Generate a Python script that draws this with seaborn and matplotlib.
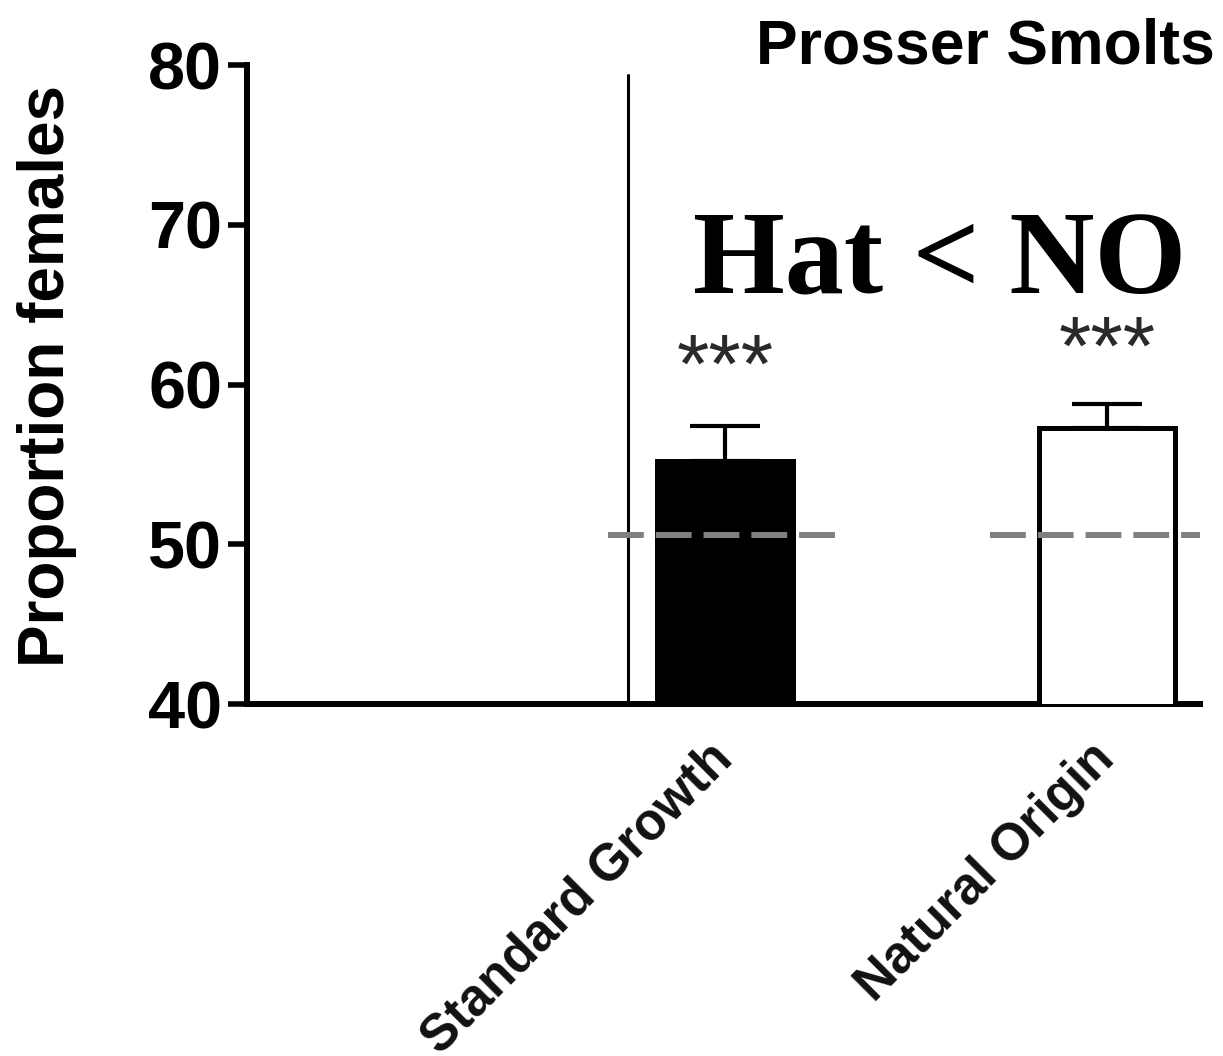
import matplotlib
matplotlib.use("Agg")
from matplotlib import pyplot as plt
import numpy as np
import pandas as pd
import seaborn as sns

# values
groups = ["Standard Growth", "Natural Origin"]
pct_female = [55.2, 57.3]
sem_upper = [2.2, 1.5]
stars = ["***", "***"]
star_level = [59.5, 60.6]
null_level = 50.6
y_ticks = [40, 50, 60, 70, 80]

df = pd.DataFrame({"group": groups, "pct": pct_female})

sns.set_theme(style="ticks")
plt.rcParams["font.family"] = ["Liberation Sans", "DejaVu Sans"]
plt.rcParams.update({"text.color": "black", "axes.labelcolor": "black",
                     "xtick.color": "black", "ytick.color": "black",
                     "axes.edgecolor": "black"})

fig = plt.figure(figsize=(12.23, 10.56), dpi=100)
ax = fig.add_axes([0.202, 0.3333, 0.779, 0.605])

sns.barplot(data=df, x="group", y="pct", hue="group", palette=["black", "white"],
            width=0.356, legend=False, ax=ax, zorder=3)
for bar in ax.patches:
    bar.set_edgecolor("black")
    bar.set_linewidth(3.6)

#only the upper half of the error bar, graphpad style
xpos = np.arange(len(groups))
ax.errorbar(xpos, pct_female, yerr=[np.zeros(len(groups)), sem_upper], fmt="none",
            ecolor="black", elinewidth=3, capsize=25, capthick=3, zorder=2)

#dashed 50:50 reference under each bar
ax.hlines(null_level, xpos[0] - 0.306, xpos[0] + 0.314, colors="#808080",
          linestyles=(0, (6, 2)), linewidth=4.3, zorder=4)
ax.hlines(null_level, xpos[1] - 0.306, 1.243, colors="#808080",
          linestyles=(0, (6, 2)), linewidth=4.3, zorder=4)

ax.axvline(-0.254, ymax=0.985, color="black", linewidth=2.2)

for x, s, lv in zip(xpos, stars, star_level):
    ax.text(x, lv, s, ha="center", va="baseline", fontsize=60, color="#2a2a2a")

ax.set_xlim(-1.251, 1.243)
ax.set_ylim(40, 80)
ax.set_yticks(y_ticks)
ax.set_yticklabels([str(t) for t in y_ticks], fontsize=48, fontweight="bold")
ax.set_xticks(xpos)
ax.set_xticklabels(groups, rotation=45, ha="right", va="center", rotation_mode="anchor",
                   fontsize=37, fontweight="bold", color="#111111")
ax.tick_params(axis="y", length=14, width=4, pad=4)
ax.tick_params(axis="x", length=0, pad=34)
ax.set_xlabel("")
ax.set_ylabel("Proportion females", fontsize=46, fontweight="bold")
ax.yaxis.set_label_coords(-0.178, 0.513)

for side in ["top", "right"]:
    ax.spines[side].set_visible(False)
ax.spines["left"].set_linewidth(4.3)
ax.spines["bottom"].set_linewidth(4.3)

fig.text(0.993, 0.940, "Prosser Smolts", ha="right", va="baseline",
         fontsize=45, fontweight="bold")
ax.text(0.563, 65.7, "Hat < NO", ha="center", va="baseline",
        fontsize=85, fontweight="bold", family="Liberation Serif")

fig.savefig("out.png", dpi=100)
